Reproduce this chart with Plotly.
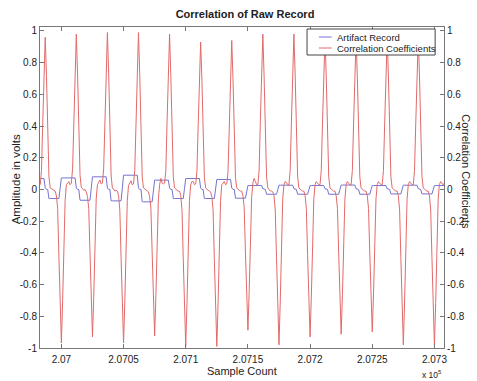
import plotly.graph_objects as go

# ---------------- data ----------------
sample_start = 206983
sample_stop = 207309  # inclusive

# Correlation coefficients, one row per 25-sample cycle (starts 4 samples before each peak)
corr = [
    0.03, 0.12, 0.42, 0.76, 0.96, 0.72, 0.38, 0.08, 0.01, 0.005, 0.0, -0.005, -0.01, -0.04, -0.12, -0.42, -0.74, -0.968, -0.70, -0.36, -0.07, 0.03, 0.045, 0.05, 0.03,
    0.04, 0.13, 0.43, 0.77, 0.98, 0.73, 0.39, 0.09, 0.015, 0.0, -0.005, 0.0, -0.015, -0.045, -0.12, -0.40, -0.71, -0.93, -0.68, -0.35, -0.06, 0.03, 0.05, 0.06, 0.035,
    0.04, 0.13, 0.44, 0.78, 0.99, 0.74, 0.39, 0.085, 0.01, 0.0, -0.01, -0.005, -0.01, -0.04, -0.13, -0.43, -0.75, -0.968, -0.71, -0.36, -0.07, 0.025, 0.045, 0.055, 0.03,
    0.035, 0.12, 0.44, 0.78, 0.99, 0.73, 0.38, 0.08, 0.01, 0.005, 0.0, -0.01, -0.015, -0.045, -0.12, -0.40, -0.70, -0.924, -0.67, -0.34, -0.06, 0.03, 0.07, 0.04, 0.035,
    0.04, 0.12, 0.43, 0.77, 0.98, 0.72, 0.38, 0.08, 0.01, 0.0, -0.005, -0.01, -0.01, -0.04, -0.13, -0.44, -0.77, -0.99, -0.72, -0.37, -0.07, 0.03, 0.05, 0.05, 0.03,
    0.035, 0.11, 0.40, 0.72, 0.93, 0.69, 0.36, 0.075, 0.01, 0.0, -0.005, -0.01, -0.015, -0.045, -0.13, -0.44, -0.77, -0.99, -0.72, -0.37, -0.07, 0.03, 0.045, 0.05, 0.03,
    0.035, 0.11, 0.41, 0.73, 0.94, 0.70, 0.36, 0.075, 0.01, 0.0, -0.005, -0.01, -0.01, -0.04, -0.11, -0.39, -0.69, -0.888, -0.65, -0.33, -0.05, 0.04, 0.07, 0.05, 0.03,
    0.03, 0.12, 0.43, 0.77, 0.98, 0.72, 0.38, 0.08, 0.01, 0.0, -0.01, -0.01, -0.015, -0.04, -0.13, -0.43, -0.76, -0.98, -0.71, -0.36, -0.06, 0.03, 0.05, 0.045, 0.03,
    0.03, 0.12, 0.43, 0.77, 0.98, 0.72, 0.38, 0.08, 0.01, 0.0, -0.005, -0.01, -0.01, -0.04, -0.12, -0.41, -0.72, -0.93, -0.68, -0.35, -0.06, 0.03, 0.05, 0.04, 0.03,
    0.03, 0.12, 0.42, 0.76, 0.96, 0.71, 0.37, 0.08, 0.01, 0.0, -0.005, -0.01, -0.01, -0.04, -0.12, -0.40, -0.71, -0.913, -0.67, -0.34, -0.06, 0.03, 0.05, 0.04, 0.03,
    0.03, 0.12, 0.42, 0.76, 0.96, 0.71, 0.37, 0.08, 0.01, 0.0, -0.005, -0.01, -0.01, -0.04, -0.12, -0.40, -0.70, -0.898, -0.66, -0.33, -0.06, 0.03, 0.05, 0.04, 0.03,
    0.03, 0.12, 0.42, 0.76, 0.96, 0.71, 0.37, 0.08, 0.01, 0.0, -0.005, -0.01, -0.01, -0.04, -0.13, -0.43, -0.76, -0.98, -0.71, -0.36, -0.06, 0.03, 0.05, 0.04, 0.03,
    0.03, 0.12, 0.42, 0.76, 0.96, 0.71, 0.37, 0.08, 0.01, 0.0, -0.005, -0.01, -0.01, -0.04, -0.13, -0.43, -0.76, -0.985, -0.72, -0.36, -0.06, 0.03, 0.05, 0.04, 0.03,
    0.04, 0.14,
]

# Artifact record (volts), same sample grid
artifact = [
    0.069, 0.069, 0.069, 0.069, 0.01, 0.0, 0.0, -0.057, -0.057, -0.057, -0.057, -0.057, -0.057, -0.057, -0.057, -0.057, 0.008, 0.073, 0.073, 0.073, 0.073, 0.073, 0.073, 0.073, 0.073,
    0.073, 0.073, 0.073, 0.073, 0.01, 0.0, 0.0, -0.068, -0.068, -0.068, -0.068, -0.068, -0.068, -0.068, -0.068, -0.068, 0.006, 0.080, 0.080, 0.080, 0.080, 0.080, 0.080, 0.080, 0.080,
    0.080, 0.080, 0.080, 0.080, 0.01, 0.0, 0.0, -0.072, -0.072, -0.072, -0.072, -0.072, -0.072, -0.072, -0.072, -0.072, 0.009, 0.090, 0.090, 0.090, 0.090, 0.090, 0.090, 0.090, 0.090,
    0.090, 0.090, 0.090, 0.090, 0.01, 0.0, 0.0, -0.078, -0.078, -0.078, -0.078, -0.078, -0.078, -0.078, -0.078, -0.078, -0.01, 0.059, 0.059, 0.059, 0.059, 0.059, 0.059, 0.059, 0.059,
    0.059, 0.059, 0.059, 0.059, 0.01, 0.0, 0.0, -0.057, -0.057, -0.057, -0.057, -0.057, -0.057, -0.057, -0.057, -0.057, 0.006, 0.069, 0.069, 0.069, 0.069, 0.069, 0.069, 0.069, 0.069,
    0.069, 0.069, 0.069, 0.069, 0.01, 0.0, 0.0, -0.057, -0.057, -0.057, -0.057, -0.057, -0.057, -0.057, -0.057, -0.057, 0.003, 0.063, 0.063, 0.063, 0.063, 0.063, 0.063, 0.063, 0.063,
    0.063, 0.063, 0.063, 0.063, 0.01, 0.0, 0.0, -0.055, -0.055, -0.055, -0.055, -0.055, -0.055, -0.055, -0.055, -0.055, -0.015, 0.025, 0.025, 0.025, 0.025, 0.025, 0.025, 0.025, 0.025,
    0.025, 0.025, 0.025, 0.025, 0.005, 0.0, 0.0, -0.030, -0.030, -0.030, -0.030, -0.030, -0.030, -0.030, -0.030, -0.030, -0.002, 0.027, 0.027, 0.027, 0.027, 0.027, 0.027, 0.027, 0.027,
    0.027, 0.027, 0.027, 0.027, 0.005, 0.0, 0.0, -0.030, -0.030, -0.030, -0.030, -0.030, -0.030, -0.030, -0.030, -0.030, -0.002, 0.025, 0.025, 0.025, 0.025, 0.025, 0.025, 0.025, 0.025,
    0.025, 0.025, 0.025, 0.025, 0.005, 0.0, 0.0, -0.030, -0.030, -0.030, -0.030, -0.030, -0.030, -0.030, -0.030, -0.030, -0.001, 0.028, 0.028, 0.028, 0.028, 0.028, 0.028, 0.028, 0.028,
    0.028, 0.028, 0.028, 0.028, 0.005, 0.0, 0.0, -0.030, -0.030, -0.030, -0.030, -0.030, -0.030, -0.030, -0.030, -0.030, -0.002, 0.025, 0.025, 0.025, 0.025, 0.025, 0.025, 0.025, 0.025,
    0.025, 0.025, 0.025, 0.025, 0.005, 0.0, 0.0, -0.028, -0.028, -0.028, -0.028, -0.028, -0.028, -0.028, -0.028, -0.028, 0.0, 0.027, 0.027, 0.027, 0.027, 0.027, 0.027, 0.027, 0.027,
    0.027, 0.027, 0.027, 0.027, 0.005, 0.0, 0.0, -0.028, -0.028, -0.028, -0.028, -0.028, -0.028, -0.028, -0.028, -0.028, -0.002, 0.025, 0.025, 0.025, 0.025, 0.025, 0.025, 0.025, 0.025,
    0.025, 0.025,
]

samples = list(range(sample_start, sample_stop + 1))

series_names = ["Artifact Record", "Correlation Coefficients"]
series_colors = ["#7373d4", "#e26a6a"]

x_tick_vals = [207000, 207050, 207100, 207150, 207200, 207250, 207300]
x_tick_text = ["2.07", "2.0705", "2.071", "2.0715", "2.072", "2.0725", "2.073"]
y_tick_vals = [-1, -0.8, -0.6, -0.4, -0.2, 0, 0.2, 0.4, 0.6, 0.8, 1]
y_tick_text = ["-1", "-0.8", "-0.6", "-0.4", "-0.2", "0", "0.2", "0.4", "0.6", "0.8", "1"]

FONT = "Liberation Sans, Arial, Helvetica, sans-serif"
AXC = "#777777"
TXT = "#222222"

# plot area in pixels: x 40..450, y 27..348
PL, PR, PT, PB = 40, 450, 27, 348


def px(xp):
    return (xp - PL) / (PR - PL)


def py(yp):
    return (PB - yp) / (PB - PT)


fig = go.Figure()
fig.add_trace(go.Scatter(x=samples, y=artifact, mode="lines", name=series_names[0],
                         line=dict(color=series_colors[0], width=1), yaxis="y"))
fig.add_trace(go.Scatter(x=samples, y=corr, mode="lines", name=series_names[1],
                         line=dict(color=series_colors[1], width=1), yaxis="y2"))

fig.update_layout(
    width=477, height=381,
    margin=dict(l=PL, r=477 - PR, t=PT, b=381 - PB),
    paper_bgcolor="white", plot_bgcolor="white",
    font=dict(family=FONT, size=10, color=TXT),
    showlegend=False,
    title=dict(text="<b>Correlation of Raw Record</b>", x=245 / 477, xanchor="center",
               y=1 - 14 / 381, yanchor="middle", yref="container",
               font=dict(family=FONT, size=11, color=TXT)),
    xaxis=dict(range=[206982.8, 207307.7], tickvals=x_tick_vals, ticktext=x_tick_text,
               showline=True, linecolor=AXC, linewidth=1, mirror="ticks",
               ticks="inside", ticklen=4, tickcolor=AXC, showgrid=False, zeroline=False,
               ticklabelstandoff=2, tickfont=dict(size=10)),
    yaxis=dict(range=[-1, 1.025], tickvals=y_tick_vals, ticktext=y_tick_text,
               showline=True, linecolor=AXC, linewidth=1,
               ticks="inside", ticklen=4, tickcolor=AXC, showgrid=False, zeroline=False,
               tickfont=dict(size=10)),
    yaxis2=dict(range=[-1, 1.025], tickvals=y_tick_vals, ticktext=y_tick_text,
                overlaying="y", side="right",
                showline=True, linecolor=AXC, linewidth=1,
                ticks="inside", ticklen=4, tickcolor=AXC, showgrid=False, zeroline=False,
                tickfont=dict(size=10)),
)

# legend box (drawn to match the compact reference legend)
fig.add_shape(type="rect", xref="paper", yref="paper",
              x0=px(311), x1=px(441), y0=py(55), y1=py(29),
              fillcolor="white", line=dict(color="#444444", width=1), layer="above")
for i, (name, col) in enumerate(zip(series_names, series_colors)):
    yl = 37 + 11 * i
    fig.add_shape(type="line", xref="paper", yref="paper",
                  x0=px(323), x1=px(336), y0=py(yl), y1=py(yl),
                  line=dict(color=col, width=1), layer="above")
    fig.add_annotation(text=name, xref="paper", yref="paper",
                       x=px(339), y=py(yl), xanchor="left", yanchor="middle",
                       showarrow=False, font=dict(size=9.5, color=TXT))

# axis titles
fig.add_annotation(text="Sample Count", xref="paper", yref="paper",
                   x=px(245), y=py(371), showarrow=False,
                   xanchor="center", yanchor="middle", font=dict(size=11, color=TXT))
fig.add_annotation(text="Amplitude in volts", xref="paper", yref="paper",
                   x=px(16), y=py(179), textangle=-90, showarrow=False,
                   xanchor="center", yanchor="middle", font=dict(size=11.5, color=TXT))
fig.add_annotation(text="Correlation Coefficients", xref="paper", yref="paper",
                   x=px(472), y=py(172), textangle=90, showarrow=False,
                   xanchor="center", yanchor="middle", font=dict(size=11, color=TXT))
fig.add_annotation(text="x 10<sup>5</sup>", xref="paper", yref="paper",
                   x=px(438), y=py(375), showarrow=False,
                   xanchor="center", yanchor="middle", font=dict(size=8.5, color=TXT))

fig.write_html("out.html")
